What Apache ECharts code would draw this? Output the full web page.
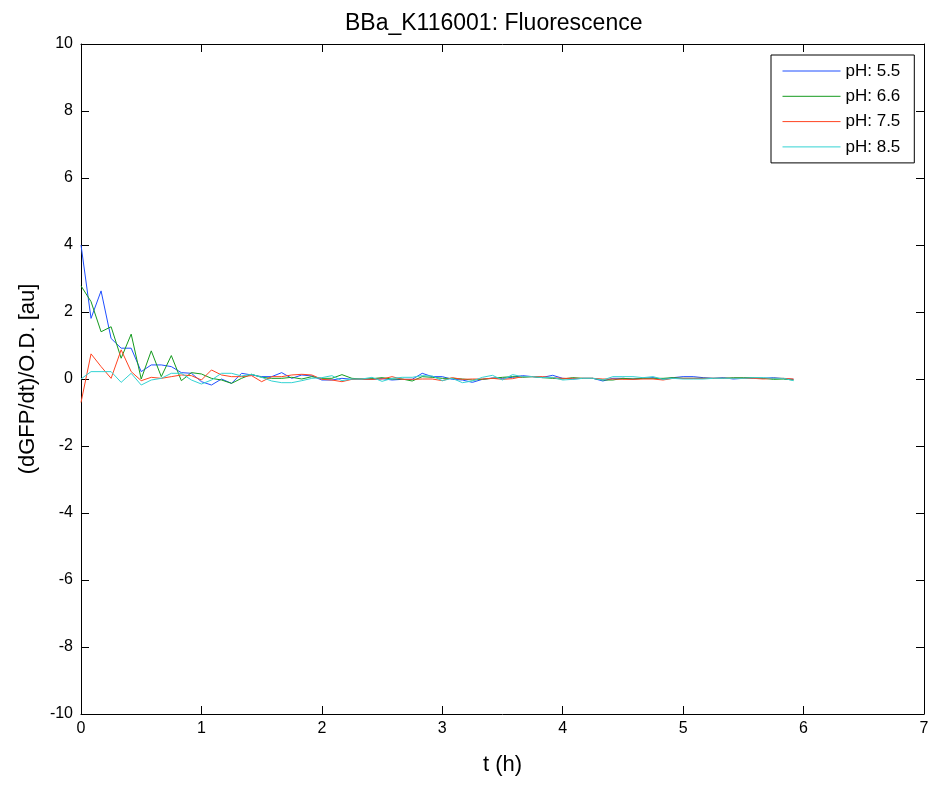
<!DOCTYPE html>
<html>
<head>
<meta charset="utf-8">
<script src="https://cdn.jsdelivr.net/npm/echarts@6/dist/echarts.min.js"></script>
<style>
html,body{margin:0;padding:0;background:#fff;}
#chart{width:933px;height:787px;}
</style>
</head>
<body>
<div id="chart"></div>
<script>
// time in minutes (sampling every 5 min)
var timeMin = [0,5,10,15,20,25,30,35,40,45,50,55,60,65,70,75,80,85,90,95,
  100,105,110,115,120,125,130,135,140,145,150,155,160,165,170,175,180,185,190,195,
  200,205,210,215,220,225,230,235,240,245,250,255,260,265,270,275,280,285,290,295,
  300,305,310,315,320,325,330,335,340,345,350,355];

var seriesNames = ['pH: 5.5', 'pH: 6.6', 'pH: 7.5', 'pH: 8.5'];

var ph55 = [4.0,1.81,2.63,1.21,0.92,0.92,0.22,0.42,0.42,0.37,0.19,0.17,-0.08,-0.18,0.0,-0.13,0.17,
  0.12,0.07,0.07,0.19,0.02,0.12,0.09,-0.03,-0.03,0.02,-0.01,0.0,-0.01,0.01,-0.03,-0.01,-0.01,0.17,
  0.07,0.07,-0.01,-0.03,-0.10,-0.01,0.03,0.02,0.05,0.10,0.07,0.05,0.11,0.02,0.0,0.02,0.02,-0.06,
  0.02,0.02,0.0,0.02,0.04,-0.01,0.04,0.07,0.07,0.04,0.02,0.04,0.0,0.02,0.02,0.02,0.04,0.01,-0.01];

var ph66 = [2.78,2.31,1.41,1.56,0.62,1.34,0.0,0.84,0.07,0.70,-0.05,0.19,0.15,0.02,-0.03,-0.13,0.02,
  0.14,0.05,0.02,0.02,0.05,0.0,0.07,0.02,0.02,0.13,0.02,0.0,0.01,0.04,0.0,0.0,-0.06,0.07,
  0.05,0.02,0.02,0.0,-0.03,-0.01,0.02,0.05,0.07,0.05,0.07,0.04,0.02,0.0,0.04,0.02,0.02,-0.03,
  -0.03,0.02,0.0,0.02,0.02,0.02,0.04,0.02,0.02,0.02,0.02,0.02,0.04,0.04,0.04,0.02,-0.01,0.0,-0.03];

var ph75 = [-0.70,0.75,0.37,0.02,0.87,0.22,-0.05,0.05,0.02,0.07,0.12,0.10,-0.03,0.27,0.12,0.07,0.07,
  0.10,-0.08,0.07,0.07,0.12,0.14,0.12,-0.01,-0.03,-0.08,-0.01,0.0,-0.01,0.0,0.07,-0.01,-0.01,0.0,
  0.0,-0.05,0.04,-0.01,0.0,0.0,0.02,-0.01,0.01,0.07,0.07,0.07,0.04,0.02,0.02,0.02,0.02,0.0,
  0.0,-0.01,-0.01,0.0,0.0,-0.03,0.02,0.02,0.02,0.02,0.02,0.02,0.02,0.02,0.02,0.0,0.02,0.02,0.0];

var ph85 = [0.0,0.22,0.22,0.22,-0.10,0.17,-0.18,-0.03,0.02,0.17,0.17,-0.03,-0.15,-0.03,0.17,0.17,0.09,
  0.14,0.05,-0.06,-0.11,-0.11,-0.05,0.02,0.04,0.10,-0.05,0.0,0.0,0.05,-0.07,0.02,0.05,0.05,0.10,
  0.09,-0.05,0.02,-0.11,-0.06,0.05,0.11,-0.03,0.13,0.07,0.07,0.04,0.05,-0.03,-0.01,0.02,0.02,-0.03,
  0.07,0.07,0.07,0.04,0.07,-0.01,0.02,0.0,0.0,0.0,0.02,0.02,0.02,0.02,0.04,0.04,0.02,0.02,-0.05];

var xTicks = [0,1,2,3,4,5,6,7];
var yTicks = [-10,-8,-6,-4,-2,0,2,4,6,8,10];

var colors = ['#1f4fff', '#149a1e', '#ff4422', '#33d3d3'];
var allValues = [ph55, ph66, ph75, ph85];

function pairs(vals) {
  return vals.map(function (v, i) { return [timeMin[i] / 60, v]; });
}

var FONT = '"Liberation Sans", Arial, Helvetica, sans-serif';

var chart = echarts.init(document.getElementById('chart'), null, {renderer: 'canvas'});

var series = allValues.map(function (vals, k) {
  return {
    name: seriesNames[k],
    type: 'line',
    xAxisIndex: 0,
    yAxisIndex: 0,
    data: pairs(vals),
    symbol: 'none',
    showSymbol: false,
    smooth: false,
    animation: false,
    lineStyle: {color: colors[k], width: 1},
    itemStyle: {color: colors[k]}
  };
});

var axisCommon = {
  axisLine: {show: true, onZero: false, lineStyle: {color: '#000', width: 1}},
  axisTick: {show: true, inside: true, length: 8, lineStyle: {color: '#000', width: 1}},
  splitLine: {show: false}
};

chart.setOption({
  backgroundColor: '#fff',
  animation: false,
  title: {
    text: 'BBa_K116001: Fluorescence',
    left: 340,
    top: 7,
    textStyle: {fontFamily: FONT, fontSize: 23, fontWeight: 'normal', color: '#000'}
  },
  legend: {
    data: seriesNames,
    orient: 'vertical',
    left: 771,
    top: 55,
    padding: [6, 14, 6, 11],
    itemWidth: 58,
    itemHeight: 20,
    itemGap: 5.3,
    backgroundColor: '#fff',
    borderColor: '#000',
    borderWidth: 1,
    itemStyle: {opacity: 0},
    lineStyle: {width: 1},
    textStyle: {fontFamily: FONT, fontSize: 17, color: '#000', lineHeight: 20}
  },
  grid: {left: 81, right: 9, top: 44, bottom: 73, containLabel: false},
  xAxis: [
    Object.assign({
      type: 'value', position: 'bottom',
      min: xTicks[0], max: xTicks[xTicks.length - 1], interval: 1,
      name: 't (h)', nameLocation: 'middle', nameGap: 40,
      nameTextStyle: {fontFamily: FONT, fontSize: 22, color: '#000'},
      axisLabel: {show: true, margin: 7, fontFamily: FONT, fontSize: 16, color: '#000'}
    }, axisCommon),
    Object.assign({
      type: 'value', position: 'top',
      min: xTicks[0], max: xTicks[xTicks.length - 1], interval: 1,
      axisLabel: {show: false}
    }, axisCommon)
  ],
  yAxis: [
    Object.assign({
      type: 'value', position: 'left',
      min: yTicks[0], max: yTicks[yTicks.length - 1], interval: 2,
      name: '(dGFP/dt)/O.D. [au]', nameLocation: 'middle', nameGap: 42, nameRotate: 90,
      nameTextStyle: {fontFamily: FONT, fontSize: 22, color: '#000'},
      axisLabel: {show: true, margin: 8, fontFamily: FONT, fontSize: 16, color: '#000'}
    }, axisCommon),
    Object.assign({
      type: 'value', position: 'right',
      min: yTicks[0], max: yTicks[yTicks.length - 1], interval: 2,
      axisLabel: {show: false}
    }, axisCommon)
  ],
  series: series
});
</script>
</body>
</html>
